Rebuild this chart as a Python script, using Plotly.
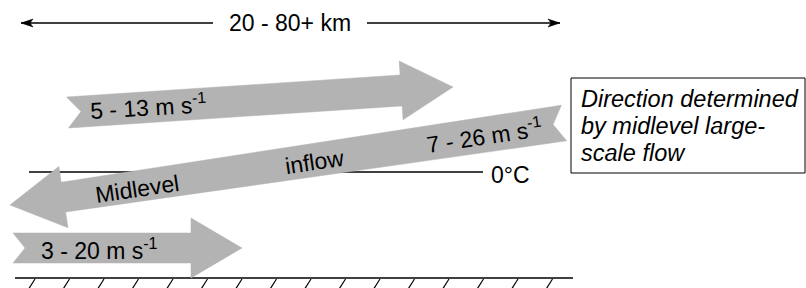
import numpy as np
import plotly.graph_objects as go

# ---- labels (text content) ----
span_label = "20 - 80+ km"
arrow_labels = ["5 - 13 m s<sup>-1</sup>", "7 - 26 m s<sup>-1</sup>", "3 - 20 m s<sup>-1</sup>"]
flow_words = ["Midlevel", "inflow"]
freezing_label = "0°C"
note_lines = ["Direction determined", "by midlevel large-", "scale flow"]

# ---- geometry of the flow arrows (pixel space of the 806x288 canvas) ----
arrow_names = ["upper", "midlevel", "lower"]
tail_x = [67.5, 564, 13]
tail_y = [112.5, 123, 248]
tip_x = [453, 10, 242]
tip_y = [87, 205, 248]
shaft_w_tail = [31, 36, 30]
shaft_w_head = [31, 30, 30]
head_w = [59, 62, 60]
head_len = [52, 54, 51]
notch = [13.5, 11, 12]

GRAY = "#b3b3b3"
FONT = "Liberation Sans, Arial, Helvetica, sans-serif"

def arrow_polygon(tx, ty, px, py, wt, wh, hw, hl, nd):
    T = np.array([tx, ty], float)
    P = np.array([px, py], float)
    u = (P - T) / np.linalg.norm(P - T)
    n = np.array([-u[1], u[0]])
    B = P - hl * u
    pts = [T + n * wt / 2, B + n * wh / 2, B + n * hw / 2, P,
           B - n * hw / 2, B - n * wh / 2, T - n * wt / 2, T + nd * u, T + n * wt / 2]
    return [p[0] for p in pts], [p[1] for p in pts]

fig = go.Figure()

def line(xs, ys, w=1.5, color="black"):
    fig.add_trace(go.Scatter(x=xs, y=ys, mode="lines", line=dict(color=color, width=w),
                             hoverinfo="skip", showlegend=False))

def poly(xs, ys, color):
    fig.add_trace(go.Scatter(x=xs, y=ys, mode="lines", fill="toself", fillcolor=color,
                             line=dict(color=color, width=0.5), hoverinfo="skip", showlegend=False))

# top dimension arrow
dim_y = 23
line([21, 213], [dim_y, dim_y], 1.3)
line([367, 560], [dim_y, dim_y], 1.3)
poly([21, 33, 30, 33, 21], [dim_y, dim_y - 4, dim_y, dim_y + 4, dim_y], "black")
poly([560, 548, 551, 548, 560], [dim_y, dim_y - 4, dim_y, dim_y + 4, dim_y], "black")

# 0°C line
line([29, 483], [172, 172], 1.6)

# ground with hatching
ground_y = 278
line([15, 573], [ground_y, ground_y], 1.5)
for i in range(16):
    x0 = 35 + 34.5 * i
    line([x0, x0 - 7], [ground_y + 1, ground_y + 12], 1.2)

# flow arrows
for i in range(len(arrow_names)):
    xs, ys = arrow_polygon(tail_x[i], tail_y[i], tip_x[i], tip_y[i], shaft_w_tail[i],
                           shaft_w_head[i], head_w[i], head_len[i], notch[i])
    poly(xs, ys, GRAY)

# note box
fig.add_shape(type="rect", x0=571, x1=805, y0=78, y1=173, line=dict(color="black", width=1),
              fillcolor="white", layer="above")

def label(text, x, y, angle=0, xanchor="center", size=23):
    fig.add_annotation(x=x, y=y, text=text, showarrow=False, textangle=angle,
                       xanchor=xanchor, yanchor="middle",
                       font=dict(family=FONT, size=size, color="black"))

label(span_label, 290, dim_y)
label(arrow_labels[0], 148, 106, -3.3)
label(arrow_labels[1], 484, 135, -8.5)
label(arrow_labels[2], 99, 249)
label(flow_words[0], 137, 189, -8.5)
label(flow_words[1], 314, 162, -8.5)
label(freezing_label, 489, 175, xanchor="left")
for k, (t, yy) in enumerate(zip(note_lines, [99, 126, 153])):
    label("<i>" + t + "</i>", 579, yy, xanchor="left", size=23.5)

fig.update_layout(width=806, height=288, margin=dict(l=0, r=0, t=0, b=0),
                  paper_bgcolor="white", plot_bgcolor="white", showlegend=False,
                  xaxis=dict(range=[0, 806], visible=False, fixedrange=True),
                  yaxis=dict(range=[288, 0], visible=False, fixedrange=True))
fig.write_html("out.html", config={"displayModeBar": False},
               post_script="document.body.style.margin='0px';document.body.style.overflow='hidden';")
